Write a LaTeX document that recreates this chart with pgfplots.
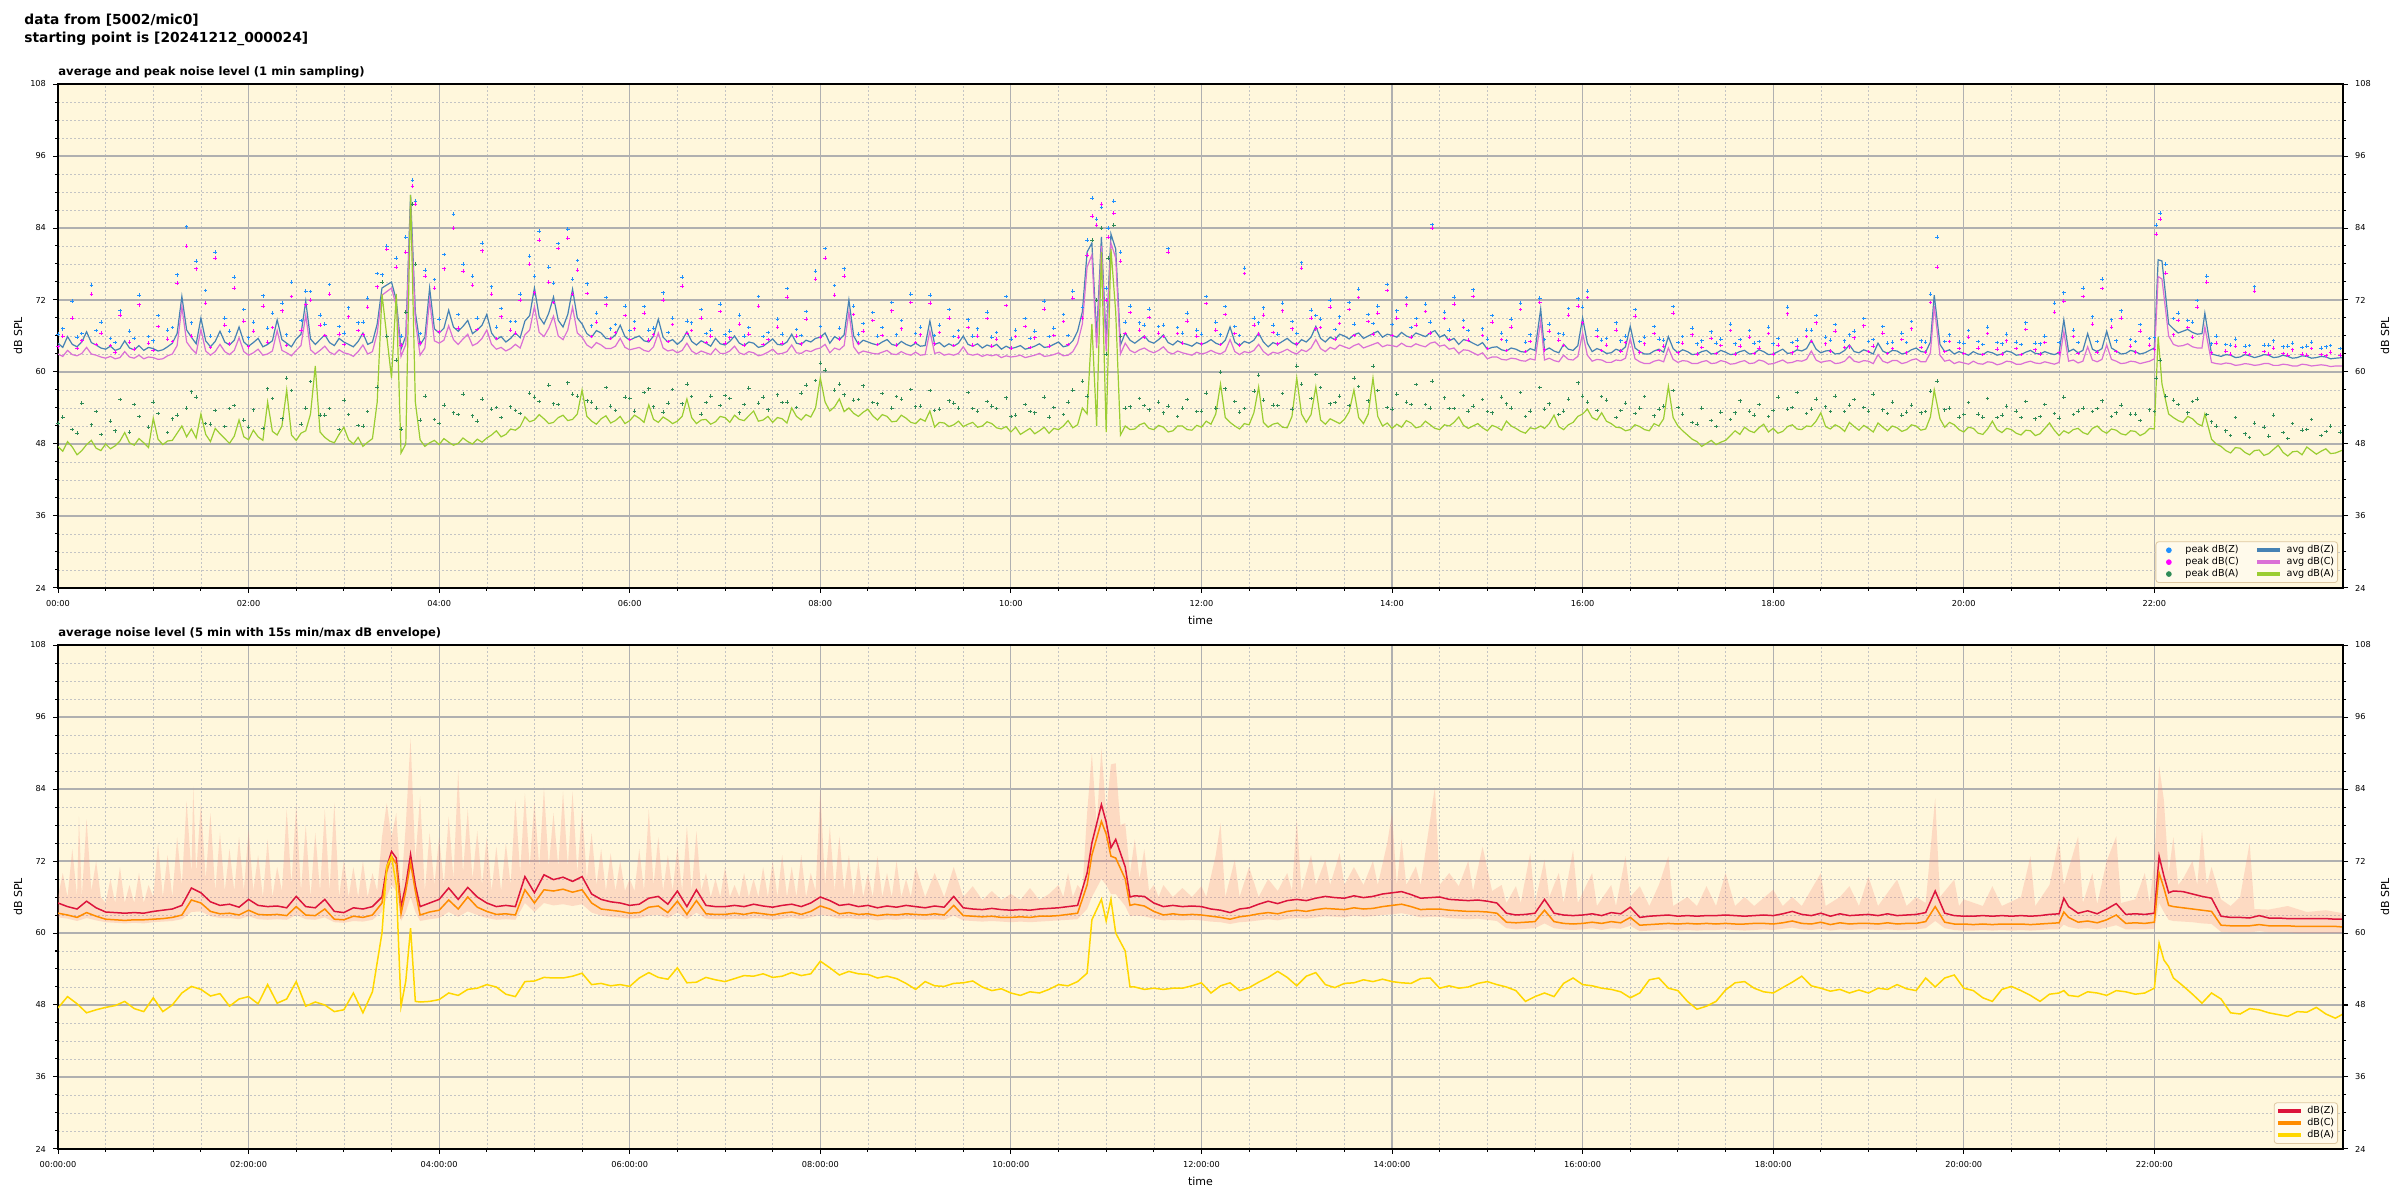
\documentclass[border=0pt]{standalone}
\usepackage{fontspec}
\setmainfont{DejaVu Sans}
\usepackage{pgfplots}
\usepackage{pgfplotstable}
\pgfplotsset{compat=1.18}
\usepgfplotslibrary{fillbetween}

\definecolor{bgc}{RGB}{255,247,220}
\definecolor{pz}{RGB}{30,144,255}
\definecolor{pc}{RGB}{255,0,255}
\definecolor{pa}{RGB}{46,139,87}
\definecolor{az}{RGB}{70,130,180}
\definecolor{ac}{RGB}{218,112,214}
\definecolor{aa}{RGB}{154,205,50}
\definecolor{bz}{RGB}{220,20,60}
\definecolor{bc}{RGB}{255,140,0}
\definecolor{ba}{RGB}{255,215,0}
\definecolor{envc}{RGB}{250,128,114}
\definecolor{gridc}{RGB}{176,176,176}
\definecolor{legedge}{RGB}{222,200,160}
\definecolor{legfill}{RGB}{255,250,235}

% 1 min averages (top panel), hours since midnight
\pgfplotstableread{
t z c a
0.0 64.8 63.0 47.6
0.05 64.1 62.6 46.8
0.1 65.9 63.6 48.4
0.15 64.6 62.9 47.5
0.2 64.2 62.7 46.2
0.25 65.0 63.1 46.9
0.3 66.7 64.1 47.9
0.35 64.9 63.0 48.6
0.4 64.5 62.8 47.3
0.45 64.0 62.5 46.9
0.5 63.8 62.3 48.0
0.55 64.3 62.6 47.2
0.6 63.6 62.2 47.7
0.65 63.9 62.4 48.5
0.7 65.2 63.4 49.9
0.75 64.0 62.5 48.2
0.8 63.7 62.3 47.8
0.85 64.4 62.8 48.9
0.9 63.6 62.2 48.2
0.95 64.1 62.5 47.4
1.0 63.9 62.4 52.3
1.05 63.5 62.1 48.8
1.1 63.7 62.2 47.9
1.15 64.2 62.7 48.5
1.2 64.8 63.0 48.6
1.25 66.4 64.4 49.8
1.3 72.6 70.9 51.0
1.35 67.0 65.0 49.2
1.4 65.8 63.9 50.5
1.45 64.7 63.1 49.0
1.5 69.0 67.1 53.0
1.55 65.2 63.5 49.6
1.6 64.2 62.8 48.4
1.65 65.1 63.4 50.6
1.7 66.8 64.6 49.7
1.75 65.0 63.4 48.9
1.8 64.5 62.9 48.1
1.85 65.3 63.6 49.3
1.9 67.5 65.7 52.0
1.95 65.0 63.4 49.2
2.0 64.3 62.8 48.7
2.05 64.9 63.2 50.3
2.1 65.6 63.8 49.2
2.15 64.2 62.8 48.6
2.2 64.6 63.0 55.0
2.25 65.2 63.5 50.1
2.3 68.7 66.9 49.5
2.35 65.4 63.6 51.0
2.4 64.8 63.2 57.0
2.45 64.2 62.7 49.5
2.5 65.5 63.6 48.6
2.55 66.3 64.4 49.8
2.6 71.8 69.5 50.2
2.65 65.5 63.7 53.0
2.7 64.6 63.0 61.0
2.75 65.4 63.6 50.0
2.8 66.2 64.3 49.1
2.85 64.9 63.3 48.5
2.9 64.4 62.9 48.2
2.95 65.6 63.7 49.6
3.0 65.0 63.2 50.8
3.05 64.6 63.0 48.7
3.1 64.2 62.6 48.0
3.15 65.1 63.4 49.1
3.2 66.5 64.5 47.6
3.25 64.6 63.0 48.3
3.3 65.0 63.4 48.9
3.35 68.0 66.5 55.0
3.4 74.0 72.8 73.0
3.5 75.0 74.0 59.0
3.55 72.0 71.0 73.0
3.6 63.8 62.6 46.5
3.65 66.0 64.6 48.0
3.7 89.5 88.0 89.5
3.75 70.0 68.5 55.0
3.8 64.5 62.8 48.7
3.85 65.8 64.0 47.6
3.9 74.0 72.0 48.2
3.95 67.2 65.2 48.6
4.0 66.5 64.8 47.9
4.05 67.3 65.3 48.9
4.1 70.3 67.7 48.3
4.15 67.5 65.4 47.8
4.2 66.8 64.6 48.1
4.25 67.6 65.5 49.0
4.3 68.6 66.3 48.4
4.35 66.4 64.4 48.0
4.4 67.0 64.8 48.8
4.45 67.8 65.6 48.3
4.5 69.6 67.0 49.0
4.55 66.5 64.6 49.5
4.6 65.4 63.8 50.2
4.65 65.9 64.1 49.2
4.7 65.0 63.5 49.6
4.75 65.6 63.9 50.5
4.8 66.5 64.6 50.3
4.85 65.7 64.0 50.9
4.9 68.5 66.2 52.5
4.95 69.4 67.0 51.7
5.0 74.0 70.9 52.0
5.05 69.2 66.6 52.9
5.1 68.0 65.9 52.2
5.15 69.8 67.3 51.4
5.2 72.5 69.3 51.6
5.25 68.6 66.0 52.4
5.3 67.5 65.4 52.8
5.35 69.6 67.0 51.9
5.4 73.8 70.8 52.1
5.45 69.0 66.5 53.0
5.5 68.0 65.8 57.0
5.55 66.4 64.5 52.6
5.6 65.8 64.0 51.8
5.65 66.9 64.9 51.3
5.7 66.5 64.5 52.2
5.75 65.6 63.9 52.7
5.8 65.5 63.9 51.5
5.85 66.2 64.3 51.9
5.9 67.8 65.6 52.6
5.95 65.9 64.1 51.4
6.0 65.3 63.7 51.9
6.05 65.7 63.9 52.8
6.1 66.0 64.1 52.3
6.15 65.2 63.6 51.6
6.2 65.0 63.4 54.5
6.25 66.0 64.2 52.1
6.3 68.8 66.5 51.6
6.35 65.8 64.0 52.5
6.4 65.0 63.5 52.0
6.45 65.4 63.7 51.4
6.5 64.6 63.2 51.8
6.55 65.3 63.6 52.6
6.6 66.7 64.8 55.5
6.65 65.1 63.5 52.4
6.7 64.5 63.0 51.4
6.75 65.2 63.5 52.0
6.8 64.8 63.2 52.1
6.85 64.3 62.9 51.3
6.9 65.6 63.9 51.7
6.95 64.7 63.1 52.6
7.0 64.5 63.1 52.4
7.05 65.1 63.5 51.6
7.1 66.0 64.3 52.8
7.15 64.8 63.2 52.1
7.2 64.4 62.9 51.9
7.25 65.0 63.4 52.7
7.3 64.8 63.2 53.5
7.35 64.1 62.7 51.8
7.4 64.3 62.9 52.0
7.45 64.9 63.3 52.6
7.5 65.5 63.8 51.6
7.55 64.6 63.0 52.4
7.6 64.5 63.1 52.2
7.65 65.0 63.4 51.5
7.7 66.3 64.5 54.0
7.75 64.8 63.2 52.6
7.8 64.6 63.1 52.0
7.85 65.3 63.6 52.9
7.9 65.0 63.4 52.5
7.95 65.6 63.8 54.0
8.0 65.8 64.0 59.0
8.05 66.5 64.6 55.0
8.1 64.8 63.2 53.5
8.15 65.9 64.0 54.2
8.2 65.4 63.7 55.5
8.25 66.2 64.4 53.4
8.3 72.0 70.0 54.0
8.35 66.0 64.2 53.1
8.4 64.6 63.1 52.6
8.45 65.3 63.5 53.3
8.5 65.0 63.3 53.8
8.55 64.7 63.1 52.7
8.6 64.5 63.0 52.0
8.65 65.0 63.3 52.9
8.7 65.4 63.6 52.6
8.75 64.6 63.0 51.7
8.8 64.4 62.9 51.8
8.85 65.1 63.4 52.8
8.9 64.6 63.0 52.3
8.95 64.3 62.8 51.6
9.0 64.8 63.3 51.4
9.05 64.3 62.8 52.2
9.1 64.4 62.9 51.8
9.15 68.5 66.8 53.5
9.2 64.6 63.1 50.8
9.25 64.9 63.3 51.6
9.3 64.2 62.8 51.5
9.35 64.7 63.0 50.9
9.4 64.3 62.8 51.2
9.45 64.8 63.1 51.8
9.5 66.0 64.2 50.9
9.55 64.6 63.0 51.3
9.6 64.3 62.8 51.6
9.65 64.7 63.0 50.8
9.7 64.0 62.6 51.0
9.75 64.5 62.9 51.7
9.8 64.2 62.7 51.4
9.85 64.6 62.9 50.7
9.9 63.8 62.4 50.5
9.95 64.3 62.7 50.9
10.0 63.9 62.5 50.0
10.05 64.1 62.6 50.8
10.1 64.4 62.8 49.6
10.15 63.8 62.4 50.1
10.2 64.0 62.6 50.6
10.25 64.3 62.8 49.7
10.3 64.7 63.1 50.2
10.35 64.1 62.6 50.8
10.4 64.2 62.7 49.8
10.45 64.6 62.9 50.6
10.5 65.0 63.2 50.4
10.55 64.2 62.7 51.0
10.6 64.4 62.8 51.9
10.65 65.2 63.4 50.7
10.7 66.8 64.8 51.2
10.75 70.0 68.0 54.0
10.8 80.0 77.5 53.0
10.85 81.5 79.5 68.0
10.9 66.0 64.0 51.0
10.95 82.5 81.0 80.0
11.0 65.0 63.5 50.0
11.05 83.0 81.5 80.5
11.1 80.5 79.0 70.0
11.15 64.5 63.0 49.5
11.2 66.5 64.8 51.0
11.25 65.3 63.6 50.4
11.3 64.8 63.2 50.5
11.35 65.4 63.7 51.2
11.4 66.0 64.0 51.5
11.45 65.1 63.5 50.6
11.5 64.8 63.2 50.4
11.55 65.4 63.6 51.1
11.6 66.2 64.2 50.8
11.65 64.9 63.3 50.0
11.7 64.5 63.0 50.2
11.75 65.2 63.5 51.0
11.8 64.8 63.2 51.0
11.85 64.6 63.0 50.4
11.9 64.3 62.8 50.3
11.95 64.9 63.3 51.1
12.0 64.6 63.0 50.8
12.05 64.9 63.2 51.8
12.1 65.4 63.6 51.3
12.15 64.8 63.2 53.0
12.2 64.5 63.0 58.0
12.25 65.3 63.5 52.4
12.3 67.5 65.4 51.6
12.35 65.0 63.4 51.0
12.4 64.4 62.9 50.5
12.45 65.1 63.4 51.4
12.5 64.8 63.2 51.2
12.55 65.3 63.6 53.2
12.6 66.5 64.6 57.5
12.65 65.0 63.4 51.6
12.7 64.2 62.8 50.8
12.75 64.9 63.3 51.3
12.8 64.6 63.1 51.5
12.85 65.1 63.4 50.8
12.9 65.6 63.8 50.7
12.95 64.9 63.3 52.6
13.0 64.5 63.0 59.0
13.05 65.4 63.7 53.0
13.1 65.0 63.4 51.6
13.15 65.8 64.0 52.9
13.2 67.6 65.4 57.5
13.25 65.6 63.9 52.0
13.3 65.0 63.4 51.3
13.35 65.8 64.1 52.2
13.4 65.4 63.8 51.8
13.45 66.3 64.5 51.4
13.5 66.0 64.2 52.1
13.55 65.5 63.9 53.4
13.6 66.2 64.4 57.0
13.65 66.5 64.7 52.4
13.7 65.6 64.0 51.4
13.75 66.0 64.3 53.0
13.8 66.4 64.6 59.0
13.85 66.8 64.9 52.6
13.9 65.8 64.2 51.0
13.95 66.3 64.5 51.5
14.0 66.1 64.4 50.6
14.05 65.8 64.2 51.3
14.1 66.6 64.8 50.8
14.15 66.0 64.3 51.9
14.2 65.7 64.2 51.5
14.25 66.5 64.7 50.7
14.3 66.2 64.4 50.9
14.35 65.9 64.2 51.8
14.4 66.5 64.8 51.2
14.45 66.9 65.0 50.6
14.5 65.8 64.3 50.4
14.55 66.2 64.5 51.2
14.6 65.2 63.8 51.0
14.65 65.6 64.0 51.6
14.7 64.6 63.1 52.5
14.75 65.4 63.7 51.1
14.8 65.2 63.6 50.6
14.85 64.8 63.2 51.0
14.9 64.4 62.8 51.4
14.95 64.9 63.2 50.7
15.0 63.8 62.2 50.2
15.05 64.1 62.5 51.1
15.1 64.2 62.5 50.8
15.15 63.7 62.1 50.3
15.2 63.5 62.0 51.8
15.25 64.0 62.3 51.0
15.3 63.8 62.2 50.6
15.35 63.4 61.9 50.1
15.4 63.3 61.8 49.8
15.45 63.9 62.2 50.7
15.5 63.6 62.0 50.5
15.56 70.5 68.5 51.0
15.6 63.6 62.0 50.6
15.65 64.0 62.3 51.4
15.7 63.5 61.9 52.8
15.75 63.2 61.7 50.9
15.8 64.6 62.8 50.4
15.85 63.8 62.1 51.2
15.9 63.6 62.0 51.6
15.95 64.4 62.6 52.6
16.0 69.0 66.5 53.0
16.05 64.8 62.8 53.8
16.1 63.4 61.8 52.4
16.15 63.9 62.1 52.0
16.2 63.6 62.0 53.2
16.25 63.1 61.6 51.8
16.3 63.2 61.6 51.4
16.35 63.8 62.0 50.8
16.4 63.5 61.9 50.7
16.45 64.2 62.3 50.2
16.5 67.6 65.6 50.4
16.55 64.0 62.2 51.2
16.6 63.4 61.7 50.9
16.65 63.0 61.4 50.4
16.7 63.0 61.4 50.2
16.75 63.5 61.8 51.4
16.8 63.8 62.0 51.0
16.85 63.3 61.7 52.2
16.9 65.9 64.0 57.6
16.95 63.9 62.1 52.4
17.0 63.2 61.6 51.0
17.05 63.7 61.9 50.2
17.1 63.4 61.8 49.5
17.15 62.9 61.4 48.8
17.2 63.0 61.4 48.4
17.25 63.4 61.7 47.6
17.3 63.6 61.9 48.1
17.35 63.0 61.4 48.6
17.4 63.1 61.5 47.9
17.45 63.6 61.9 48.3
17.5 63.3 61.7 48.6
17.55 62.9 61.3 49.4
17.6 63.0 61.4 50.2
17.65 63.4 61.7 49.6
17.7 63.6 61.9 50.8
17.75 63.0 61.4 50.2
17.8 63.1 61.5 49.9
17.85 63.7 62.0 50.7
17.9 63.4 61.8 51.3
17.95 62.9 61.3 50.0
18.0 63.0 61.4 50.6
18.05 63.4 61.7 49.8
18.1 63.8 62.0 50.1
18.15 63.1 61.5 50.9
18.2 63.2 61.6 51.2
18.25 63.7 61.9 50.5
18.3 63.5 61.8 50.4
18.35 63.9 62.1 51.0
18.4 65.3 63.5 50.9
18.45 63.8 62.0 51.8
18.5 63.2 61.6 53.2
18.55 63.5 61.8 50.9
18.6 63.6 61.9 50.5
18.65 63.0 61.4 51.2
18.7 63.1 61.5 50.8
18.75 63.6 61.8 50.1
18.8 64.5 62.6 51.6
18.85 63.4 61.8 50.9
18.9 63.2 61.6 50.3
18.95 63.7 61.9 51.1
19.0 63.4 61.8 50.6
19.05 63.0 61.4 50.0
19.1 64.8 62.9 51.5
19.15 63.5 61.8 50.8
19.2 63.1 61.5 50.2
19.25 63.6 61.9 51.0
19.3 63.5 61.9 50.7
19.35 63.0 61.4 50.1
19.4 63.2 61.6 50.4
19.45 63.7 62.0 51.2
19.5 64.0 62.2 51.0
19.55 63.4 61.7 50.3
19.6 63.3 61.7 50.5
19.65 65.0 63.2 52.5
19.69 72.8 71.0 57.0
19.75 64.6 62.8 52.2
19.8 63.4 61.8 50.8
19.85 63.7 62.0 51.6
19.9 63.0 61.4 51.2
19.95 63.4 61.7 50.4
20.0 63.1 61.5 50.0
20.05 62.8 61.3 50.8
20.1 63.4 61.8 50.6
20.15 63.0 61.4 49.8
20.2 62.9 61.3 49.6
20.25 63.4 61.7 50.5
20.3 63.2 61.6 51.8
20.35 62.8 61.2 50.4
20.4 63.0 61.4 49.9
20.45 63.5 61.8 50.6
20.5 63.3 61.7 50.4
20.55 62.8 61.3 49.8
20.6 62.9 61.3 49.5
20.65 63.3 61.6 50.3
20.7 63.6 61.8 50.2
20.75 63.1 61.5 49.4
20.8 63.0 61.4 49.7
20.85 63.4 61.7 50.6
20.9 63.1 61.5 51.5
20.95 62.9 61.3 50.3
21.0 63.2 61.6 49.4
21.05 68.7 66.7 50.2
21.1 63.4 61.8 49.8
21.15 63.8 62.0 50.4
21.2 63.2 61.5 50.6
21.25 63.6 61.8 49.9
21.3 66.4 64.2 49.6
21.35 63.8 62.0 50.6
21.4 63.4 61.7 51.0
21.45 63.9 62.1 50.2
21.5 66.8 64.5 49.8
21.55 64.0 62.1 50.5
21.6 63.5 61.8 50.3
21.65 63.0 61.4 49.7
21.7 63.1 61.5 49.5
21.75 63.6 61.8 50.2
21.8 63.4 61.7 50.1
21.85 63.0 61.4 49.4
21.9 63.2 61.6 49.8
21.95 63.6 61.8 50.6
22.0 64.0 62.2 50.5
22.04 78.7 75.9 65.9
22.08 78.5 75.5 58.0
22.15 68.0 66.0 53.0
22.2 67.2 64.6 52.4
22.25 66.5 64.3 51.9
22.3 66.8 64.4 51.6
22.35 67.1 64.7 52.6
22.4 66.6 64.2 52.2
22.45 66.3 64.0 51.4
22.5 66.4 64.0 51.0
22.53 69.8 67.5 53.0
22.6 63.0 61.6 48.8
22.65 62.8 61.4 48.0
22.7 62.6 61.3 47.6
22.75 62.9 61.5 46.9
22.8 62.8 61.4 46.5
22.85 62.4 61.1 47.4
22.9 62.5 61.2 47.3
22.95 62.9 61.4 46.6
23.0 62.7 61.3 46.2
23.05 62.4 61.1 46.9
23.1 62.6 61.2 47.0
23.15 62.9 61.4 46.1
23.2 62.8 61.4 46.4
23.25 62.4 61.1 47.1
23.3 62.5 61.1 47.8
23.35 62.8 61.3 46.6
23.4 62.6 61.2 46.0
23.45 62.3 61.0 46.7
23.5 62.4 61.0 46.8
23.55 62.7 61.3 46.2
23.6 62.6 61.2 47.5
23.65 62.3 61.0 46.9
23.7 62.4 61.1 46.3
23.75 62.6 61.2 46.8
23.8 62.5 61.1 47.2
23.85 62.2 60.9 46.4
23.9 62.3 61.0 46.5
23.98 62.4 61.0 47.0
}\avgtab

% 1 min peaks (top panel), outliers
\pgfplotstableread{
t z c a
0.05 67.2 66.0 52.5
0.15 71.8 69.0 50.4
0.25 66.4 65.2 54.8
0.35 74.5 73.0 51.2
0.45 68.3 66.5 49.6
0.55 65.6 64.4 51.8
0.65 70.2 69.5 55.4
0.75 66.8 65.0 50.0
0.85 72.8 71.2 52.6
0.95 65.9 64.8 50.8
1.05 69.4 67.6 53.1
1.15 67.0 65.5 49.9
1.25 76.2 74.8 52.8
1.35 84.2 81.0 54.0
1.45 78.5 77.2 55.8
1.55 73.6 71.5 51.4
1.65 80.0 79.0 53.6
1.75 69.0 67.8 50.9
1.85 75.8 74.0 54.4
1.95 70.4 68.5 52.0
2.05 68.3 66.8 53.7
2.15 72.7 71.0 50.6
2.25 69.8 67.4 55.6
2.35 71.5 70.2 52.2
2.45 75.0 72.6 56.9
2.55 68.6 67.0 51.3
2.65 73.4 72.0 58.4
2.75 69.5 67.8 52.8
2.85 74.6 73.0 53.9
2.95 67.6 66.3 50.4
3.05 70.7 69.2 52.9
3.15 68.2 66.9 51.1
3.25 72.3 70.8 53.4
3.35 76.4 74.2 57.5
3.45 81.0 80.5 66.0
3.55 79.0 77.5 62.0
3.65 82.5 80.0 70.0
3.72 92.0 91.0 88.0
3.75 88.5 88.0 78.0
3.85 77.0 76.0 56.0
3.95 75.4 74.0 52.1
4.05 79.6 77.2 54.5
4.15 86.3 84.0 53.2
4.25 78.0 76.8 56.3
4.35 76.0 74.5 52.7
4.45 81.5 80.2 55.5
4.55 74.2 73.0 53.8
4.65 70.6 69.2 52.4
4.75 68.4 67.0 54.2
4.85 73.0 72.0 53.1
4.95 79.3 78.0 56.5
5.05 83.5 82.0 55.1
5.15 77.5 75.0 57.8
5.25 81.4 80.6 54.6
5.35 83.8 82.3 58.2
5.45 78.6 77.0 56.0
5.55 74.7 73.1 55.2
5.65 69.8 68.3 54.0
5.75 72.4 71.2 57.4
5.85 67.9 66.6 53.6
5.95 71.0 69.4 55.8
6.05 68.4 67.2 53.5
6.15 70.9 69.8 56.6
6.25 67.3 66.2 54.2
6.35 73.2 72.0 53.3
6.45 69.0 67.9 57.1
6.55 75.8 74.3 54.7
6.65 68.2 66.9 55.9
6.75 70.4 69.0 53.0
6.85 67.0 66.0 56.0
6.95 71.3 70.1 54.4
7.05 66.8 65.7 55.6
7.15 69.5 68.0 53.2
7.25 67.4 66.3 57.3
7.35 72.6 71.0 54.8
7.45 66.6 65.4 53.7
7.55 68.8 67.5 56.2
7.65 73.9 72.5 55.0
7.75 67.1 66.0 54.1
7.85 70.1 68.8 57.8
7.95 76.8 75.5 58.6
8.05 80.6 79.0 60.3
8.15 74.4 72.8 57.0
8.25 77.2 76.0 56.2
8.35 71.0 69.6 55.3
8.45 68.1 66.8 57.7
8.55 69.9 68.6 54.9
8.65 67.4 66.1 56.4
8.75 71.6 70.2 54.0
8.85 68.6 67.2 55.5
8.95 73.0 71.6 57.1
9.05 67.5 66.2 54.3
9.15 72.8 71.5 56.9
9.25 67.8 66.6 53.8
9.35 70.4 69.0 55.2
9.45 66.9 65.8 54.0
9.55 68.7 67.4 56.6
9.65 67.2 66.0 53.5
9.75 70.0 68.9 55.1
9.85 66.6 65.5 53.9
9.95 72.6 71.1 55.7
10.05 67.0 65.9 52.8
10.15 68.9 67.6 54.6
10.25 66.8 65.7 53.2
10.35 71.8 70.5 55.8
10.45 67.3 66.1 54.1
10.55 69.6 68.4 52.9
10.65 73.5 72.3 57.0
10.75 70.8 69.0 58.5
10.85 89.0 86.0 82.0
10.9 85.5 84.5 72.0
10.95 87.5 88.0 84.0
11.02 84.0 82.5 79.0
11.08 88.5 86.5 84.5
11.15 80.0 78.5 66.0
11.25 71.0 69.9 54.2
11.35 68.2 67.0 55.6
11.45 70.5 69.1 53.7
11.55 67.6 66.5 55.0
11.65 80.6 80.0 54.3
11.75 67.4 66.4 52.6
11.85 69.8 68.5 55.4
11.95 67.0 66.0 53.4
12.05 72.6 71.4 56.5
12.15 68.3 67.0 54.0
12.25 70.9 69.6 57.2
12.35 67.6 66.4 55.1
12.45 77.3 76.4 53.9
12.55 69.0 67.8 56.8
12.65 70.7 69.5 55.3
12.75 67.8 66.6 54.5
12.85 71.5 70.2 56.4
12.95 68.4 67.2 53.8
13.05 78.2 77.3 58.0
13.15 70.3 69.0 55.6
13.25 68.8 67.4 57.4
13.35 72.0 70.8 54.7
13.45 69.2 68.1 56.0
13.55 71.6 70.4 54.4
13.65 73.8 72.4 57.6
13.75 69.6 68.4 55.2
13.85 71.0 69.8 56.9
13.95 74.6 73.6 54.1
14.05 70.2 69.0 56.3
14.15 72.4 71.2 55.0
14.25 68.9 67.8 57.9
14.35 71.3 70.1 54.6
14.42 84.6 84.0 58.5
14.55 70.0 68.9 55.7
14.65 72.5 71.3 53.9
14.75 68.6 67.4 56.1
14.85 73.7 72.6 54.3
14.95 67.2 66.1 55.4
15.05 69.4 68.3 53.2
15.15 66.5 65.4 55.8
15.25 68.8 67.5 54.0
15.35 71.5 70.4 56.6
15.45 66.2 65.1 53.5
15.55 72.3 71.6 57.4
15.65 68.0 66.8 54.7
15.75 66.4 65.3 52.9
15.85 70.6 69.5 55.5
15.95 72.2 71.0 58.2
16.05 73.5 72.4 55.0
16.15 67.0 65.9 53.6
16.25 65.6 64.5 55.3
16.35 68.2 67.0 52.4
16.45 66.0 64.9 54.8
16.55 70.4 69.3 53.1
16.65 65.8 64.7 55.9
16.75 67.6 66.4 52.7
16.85 65.3 64.3 54.3
16.95 70.9 69.8 56.9
17.05 65.9 64.8 53.0
17.15 67.3 66.2 51.6
17.25 65.2 64.1 54.0
17.35 66.7 65.6 51.9
17.45 65.5 64.4 53.3
17.55 68.0 66.9 52.1
17.65 65.4 64.3 55.2
17.75 66.9 65.8 53.5
17.85 65.1 64.0 54.6
17.95 67.5 66.4 52.6
18.05 65.6 64.5 55.8
18.15 70.8 69.7 53.8
18.25 65.3 64.2 56.6
18.35 67.0 65.9 53.1
18.45 69.4 68.2 55.5
18.55 65.8 64.7 54.2
18.65 67.9 66.8 56.0
18.75 65.2 64.1 53.4
18.85 66.8 65.7 55.4
18.95 68.9 67.7 54.1
19.05 65.4 64.3 56.3
19.15 67.6 66.5 53.7
19.25 65.0 63.9 55.0
19.35 66.5 65.4 52.8
19.45 68.4 67.2 54.5
19.55 65.2 64.1 53.2
19.65 73.0 71.6 56.8
19.72 82.5 77.5 58.5
19.85 66.2 65.1 54.0
19.95 65.0 63.9 52.5
20.05 66.9 65.8 54.9
20.15 65.1 64.0 53.0
20.25 67.5 66.4 55.6
20.35 64.9 63.8 52.4
20.45 66.3 65.2 54.3
20.55 65.0 63.9 53.5
20.65 68.2 67.1 55.1
20.75 64.8 63.7 52.2
20.85 66.0 64.9 54.6
20.95 71.5 70.0 53.1
21.05 73.2 71.8 55.8
21.15 67.0 65.9 52.9
21.25 74.0 72.6 54.0
21.35 69.2 68.0 53.4
21.45 75.5 73.9 55.2
21.55 68.7 67.5 52.6
21.65 70.2 69.0 54.5
21.75 65.4 64.3 53.0
21.85 67.9 66.8 51.9
21.95 65.6 64.5 53.7
22.02 84.5 83.0 59.0
22.06 86.5 85.5 62.0
22.12 78.0 76.5 56.0
22.25 69.8 68.6 54.6
22.35 68.6 67.4 53.2
22.45 71.9 70.8 55.5
22.55 76.0 75.0 52.9
22.65 66.0 64.8 51.0
22.75 64.6 63.5 50.2
22.85 65.5 64.3 52.4
22.95 64.3 63.2 49.7
23.05 74.2 73.5 51.5
23.15 64.5 63.4 50.8
23.25 65.2 64.0 52.8
23.35 64.2 63.1 49.9
23.45 64.8 63.7 51.4
23.55 64.1 63.0 50.3
23.65 65.0 63.9 52.1
23.75 64.0 62.9 49.4
23.85 64.4 63.3 51.0
23.95 63.9 62.8 50.0
}\peaktab

% 1 min peaks (top panel), the dense band just above the averages
\pgfplotstableread{
t z c a
0.0 66.3 64.2 51.5
0.2 65.8 63.9 49.8
0.4 66.9 64.6 53.4
0.6 64.9 63.3 50.2
0.8 65.6 63.8 54.6
1.0 65.2 63.6 55.0
1.2 67.4 65.1 52.2
1.4 68.2 66.0 56.7
1.6 66.0 64.1 51.3
1.8 66.8 64.7 53.9
2.0 65.7 64.2 50.8
2.2 67.3 65.0 57.2
2.4 66.2 64.4 59.0
2.6 73.5 71.2 54.0
2.8 68.0 66.1 52.8
3.0 66.5 64.6 55.3
3.2 68.3 66.2 51.0
3.4 76.2 75.0 75.0
3.6 66.0 64.5 50.5
3.8 66.4 64.8 52.0
4.0 68.8 66.7 51.4
4.2 69.6 67.3 52.9
4.4 69.0 67.1 51.8
4.6 67.5 65.6 54.1
4.8 68.4 66.5 53.6
5.0 76.0 73.2 55.8
5.2 74.8 71.6 54.7
5.4 75.5 73.0 56.3
5.6 67.7 65.9 55.0
5.8 67.2 65.6 54.3
6.0 66.9 65.4 55.6
6.2 67.0 65.3 57.2
6.4 66.6 65.1 54.8
6.6 68.5 66.4 58.0
6.8 66.4 64.9 54.9
7.0 66.2 64.8 56.1
7.2 66.0 64.5 54.6
7.4 65.9 64.6 55.8
7.6 66.3 64.8 54.9
7.8 66.1 64.7 56.5
8.0 67.6 65.8 61.5
8.2 67.3 65.5 58.0
8.4 66.3 64.8 55.4
8.6 66.0 64.6 54.7
8.8 66.2 64.5 55.9
9.0 66.4 64.9 54.2
9.2 66.1 64.7 53.6
9.4 65.9 64.4 54.8
9.6 66.0 64.5 53.9
9.8 65.8 64.3 54.3
10.0 65.5 64.0 52.6
10.2 65.6 64.1 53.4
10.4 65.9 64.3 52.5
10.6 66.1 64.6 55.0
10.8 82.0 79.5 56.0
11.0 74.0 72.0 63.0
11.2 68.3 66.4 54.0
11.4 67.8 65.8 54.4
11.6 67.8 65.9 53.2
11.8 66.5 64.8 54.0
12.0 66.3 64.7 53.5
12.2 66.2 64.6 60.0
12.4 66.1 64.5 53.3
12.6 68.2 66.3 59.5
12.8 66.3 64.7 54.4
13.0 66.4 64.7 61.0
13.2 69.4 67.2 59.6
13.4 67.1 65.5 54.9
13.6 68.0 66.1 59.0
13.8 68.1 66.3 61.0
14.0 67.9 66.1 53.8
14.2 67.4 65.8 54.6
14.4 68.3 66.5 54.0
14.6 67.0 65.4 53.9
14.8 66.9 65.3 53.5
15.0 65.5 63.9 53.4
15.2 65.2 63.6 54.7
15.4 65.0 63.4 52.6
15.6 65.4 63.7 53.8
15.8 66.3 64.4 53.5
16.0 70.8 68.2 56.0
16.2 65.3 63.6 55.9
16.4 65.2 63.5 53.6
16.6 65.1 63.3 54.0
16.8 65.5 63.6 53.8
17.0 64.9 63.2 54.1
17.2 64.7 63.0 51.3
17.4 64.8 63.1 50.9
17.6 64.7 63.0 53.2
17.8 64.8 63.1 52.8
18.0 64.7 63.0 53.6
18.2 64.9 63.2 54.1
18.4 67.0 65.1 53.8
18.6 65.3 63.5 53.4
18.8 66.2 64.2 54.5
19.0 65.1 63.4 53.5
19.2 64.8 63.1 53.1
19.4 64.9 63.2 53.3
19.6 65.0 63.3 53.4
19.8 65.1 63.4 53.7
20.0 64.8 63.1 52.9
20.2 64.6 62.9 52.5
20.4 64.7 63.0 52.8
20.6 64.6 62.9 52.4
20.8 64.7 63.0 52.6
21.0 64.9 63.2 52.3
21.2 64.9 63.1 53.5
21.4 65.1 63.3 53.9
21.6 65.2 63.4 53.2
21.8 65.1 63.3 53.0
22.0 65.7 63.8 53.4
22.2 68.9 66.2 55.3
22.4 68.3 65.8 55.1
22.6 64.7 63.2 51.7
22.8 64.5 63.0 49.4
23.0 64.4 62.9 49.1
23.2 64.5 63.0 49.3
23.4 64.3 62.8 48.9
23.6 64.3 62.8 50.4
23.8 64.2 62.7 50.1
}\bandtab

% 5 min averages (bottom panel), lo = lower edge of the 15 s envelope
\pgfplotstableread{
t z c a lo
0.0 65.0 63.3 47.5 62.6
0.1 64.4 63.0 49.4 62.4
0.2 64.0 62.6 48.2 62.0
0.3 65.3 63.4 46.7 62.5
0.4 64.2 62.8 47.2 62.1
0.5 63.5 62.3 47.6 61.8
0.6 63.4 62.2 47.9 61.7
0.7 63.3 62.1 48.6 61.6
0.8 63.4 62.2 47.4 61.7
0.9 63.3 62.2 46.9 61.6
1.0 63.6 62.3 49.2 61.8
1.1 63.8 62.4 46.9 61.9
1.2 64.0 62.6 48.0 62.0
1.3 64.6 63.0 50.0 62.3
1.4 67.5 65.5 51.1 63.5
1.5 66.7 65.0 50.6 63.6
1.6 65.2 63.6 49.5 62.8
1.7 64.6 63.2 49.9 62.5
1.8 64.8 63.3 47.8 62.5
1.9 64.3 63.0 49.0 62.3
2.0 65.6 63.8 49.4 62.8
2.1 64.6 63.1 48.2 62.3
2.2 64.4 63.0 51.4 62.2
2.3 64.5 63.1 48.3 62.3
2.4 64.2 62.9 49.0 62.2
2.5 66.1 64.4 51.9 63.0
2.6 64.4 63.0 47.8 62.3
2.7 64.2 62.9 48.5 62.2
2.8 65.6 64.0 48.0 62.6
2.9 63.6 62.3 46.9 61.8
3.0 63.4 62.2 47.2 61.7
3.1 64.2 62.8 50.0 62.0
3.2 64.0 62.6 46.7 61.9
3.3 64.4 63.0 50.2 62.2
3.4 66.0 65.0 60.0 63.5
3.45 71.0 70.2 71.1 66.0
3.5 73.6 72.8 72.8 68.0
3.55 72.5 71.5 68.0 67.0
3.6 64.4 63.2 47.8 62.0
3.65 68.0 67.0 52.0 63.5
3.7 73.1 71.7 60.8 66.0
3.75 68.0 67.0 48.6 63.5
3.8 64.4 63.0 48.5 62.0
3.9 65.0 63.5 48.6 62.3
4.0 65.6 63.8 48.9 62.5
4.1 67.5 65.5 50.0 63.5
4.2 65.6 64.0 49.6 62.7
4.3 67.6 66.0 50.6 63.6
4.4 66.0 64.3 50.8 63.0
4.5 65.0 63.6 51.4 62.5
4.6 64.4 63.1 51.0 62.2
4.7 64.6 63.2 49.8 62.3
4.8 64.4 63.0 49.4 62.2
4.9 69.4 67.2 51.9 65.0
5.0 66.7 65.0 52.0 63.5
5.1 69.7 67.2 52.6 65.0
5.2 68.9 67.0 52.5 64.6
5.3 69.3 67.3 52.5 64.8
5.4 68.6 66.8 52.8 64.5
5.5 69.4 67.2 53.3 64.8
5.6 66.5 65.0 51.4 63.4
5.7 65.6 64.0 51.6 62.9
5.8 65.2 63.8 51.2 62.7
5.9 65.0 63.6 51.4 62.6
6.0 64.6 63.3 51.1 62.4
6.1 64.8 63.4 52.5 62.5
6.2 65.8 64.3 53.4 62.9
6.3 66.1 64.5 52.6 63.0
6.4 64.8 63.4 52.3 62.5
6.5 67.0 65.3 54.2 63.4
6.6 64.4 63.1 51.7 62.3
6.7 67.2 65.4 51.8 63.4
6.8 64.6 63.2 52.6 62.4
6.9 64.4 63.1 52.2 62.3
7.0 64.4 63.1 51.9 62.3
7.1 64.6 63.3 52.4 62.4
7.2 64.4 63.1 52.9 62.3
7.3 64.8 63.4 52.8 62.5
7.4 64.5 63.2 53.2 62.4
7.5 64.3 63.0 52.6 62.2
7.6 64.6 63.3 52.8 62.4
7.7 64.8 63.5 53.4 62.6
7.8 64.4 63.1 52.9 62.3
7.9 65.0 63.6 53.2 62.6
8.0 66.0 64.5 55.3 63.0
8.1 65.4 64.0 54.2 62.8
8.2 64.6 63.2 53.0 62.4
8.3 64.8 63.4 53.6 62.5
8.4 64.4 63.1 53.2 62.3
8.5 64.6 63.2 53.1 62.4
8.6 64.2 62.9 52.5 62.1
8.7 64.5 63.1 52.8 62.3
8.8 64.3 63.0 52.4 62.2
8.9 64.6 63.2 51.6 62.4
9.0 64.4 63.1 50.6 62.3
9.1 64.2 63.0 51.9 62.2
9.2 64.5 63.2 51.2 62.3
9.3 64.3 63.0 51.1 62.2
9.4 66.1 64.6 51.6 62.9
9.5 64.2 62.9 51.7 62.1
9.6 64.0 62.8 52.0 62.0
9.7 63.9 62.7 51.0 61.9
9.8 64.1 62.8 50.4 62.0
9.9 63.9 62.6 50.7 61.9
10.0 63.8 62.6 50.0 61.8
10.1 63.9 62.7 49.6 61.9
10.2 63.8 62.6 50.2 61.8
10.3 64.0 62.8 50.0 61.9
10.4 64.1 62.8 50.6 62.0
10.5 64.2 62.9 51.4 62.1
10.6 64.4 63.1 51.2 62.2
10.7 64.6 63.3 51.9 62.3
10.8 70.0 68.0 53.3 64.0
10.85 75.0 73.0 62.2 66.0
10.95 81.4 78.6 65.6 69.0
11.0 78.5 76.5 62.0 68.0
11.05 74.2 72.8 65.6 66.5
11.1 75.6 72.5 60.0 66.5
11.2 71.0 69.0 57.0 64.5
11.25 66.0 64.6 51.0 62.8
11.3 66.2 64.8 51.0 62.9
11.4 66.1 64.5 50.6 62.8
11.5 65.0 63.6 50.8 62.4
11.6 64.4 63.0 50.6 62.1
11.7 64.6 63.2 50.8 62.2
11.8 64.4 63.0 50.8 62.1
11.9 64.5 63.1 51.2 62.2
12.0 64.4 63.0 51.7 62.1
12.1 64.0 62.8 50.0 61.9
12.2 63.8 62.6 51.2 61.8
12.3 63.4 62.3 51.7 61.5
12.4 64.0 62.7 50.4 61.8
12.5 64.2 62.9 50.9 61.9
12.6 64.8 63.2 51.8 62.1
12.7 65.3 63.4 52.6 62.3
12.8 64.9 63.2 53.6 62.1
12.9 65.4 63.6 52.6 62.4
13.0 65.6 63.8 51.2 62.5
13.1 65.4 63.6 52.8 62.4
13.2 65.8 63.9 53.4 62.6
13.3 66.1 64.1 51.4 62.8
13.4 65.9 64.0 50.9 62.7
13.5 65.8 63.9 51.6 62.6
13.6 66.2 64.2 51.7 62.9
13.7 65.9 64.0 52.2 62.7
13.8 66.1 64.1 51.9 62.8
13.9 66.5 64.4 52.3 63.0
14.0 66.7 64.6 51.9 63.1
14.1 66.9 64.8 51.7 63.3
14.2 66.4 64.4 51.6 63.0
14.3 65.8 63.9 52.4 62.6
14.4 65.9 64.0 52.5 62.7
14.5 66.0 64.0 50.8 62.7
14.6 65.6 63.8 51.2 62.5
14.7 65.5 63.7 50.8 62.4
14.8 65.4 63.6 51.0 62.3
14.9 65.5 63.6 51.6 62.4
15.0 65.3 63.5 51.9 62.2
15.1 65.0 63.3 51.4 62.0
15.2 63.3 61.8 51.0 60.8
15.3 63.0 61.7 50.4 60.6
15.4 63.1 61.8 48.6 60.7
15.5 63.3 61.9 49.4 60.8
15.6 65.6 63.8 50.0 61.6
15.7 63.3 61.9 49.4 60.8
15.8 63.0 61.6 51.6 60.6
15.9 62.9 61.5 52.5 60.5
16.0 63.0 61.6 51.4 60.6
16.1 63.2 61.8 51.2 60.8
16.2 62.9 61.6 50.8 60.5
16.3 63.4 61.9 50.6 60.8
16.4 63.2 61.7 50.2 60.7
16.5 64.3 62.6 49.2 61.2
16.6 62.6 61.3 50.0 60.3
16.7 62.8 61.4 52.2 60.4
16.8 62.9 61.5 52.5 60.5
16.9 63.0 61.6 50.8 60.6
17.0 62.8 61.5 50.4 60.4
17.1 62.9 61.6 48.6 60.5
17.2 62.8 61.5 47.3 60.4
17.3 62.9 61.6 47.8 60.5
17.4 62.9 61.5 48.6 60.5
17.5 63.0 61.6 50.5 60.6
17.6 62.9 61.5 51.7 60.5
17.7 62.8 61.5 51.9 60.4
17.8 62.9 61.6 50.8 60.5
17.9 63.0 61.6 50.2 60.6
18.0 62.9 61.5 50.0 60.5
18.1 63.2 61.7 50.9 60.7
18.2 63.6 62.0 51.8 60.9
18.3 63.1 61.6 52.8 60.6
18.4 62.9 61.5 51.2 60.5
18.5 63.3 61.8 50.8 60.7
18.6 62.8 61.4 50.3 60.4
18.7 63.2 61.7 50.6 60.6
18.8 62.9 61.5 50.0 60.5
18.9 63.0 61.6 50.5 60.6
19.0 63.1 61.6 50.0 60.6
19.1 62.9 61.5 50.8 60.5
19.2 63.2 61.7 50.6 60.6
19.3 62.9 61.5 51.4 60.5
19.4 63.0 61.6 50.7 60.5
19.5 63.1 61.6 50.4 60.6
19.6 63.4 61.9 52.5 60.8
19.7 67.0 64.4 51.0 62.0
19.8 63.3 61.8 52.5 60.8
19.9 62.9 61.5 53.0 60.5
20.0 62.8 61.5 50.8 60.4
20.1 62.8 61.4 50.4 60.4
20.2 62.9 61.5 49.2 60.5
20.3 62.8 61.4 48.6 60.4
20.4 62.9 61.5 50.6 60.5
20.5 62.8 61.5 51.1 60.4
20.6 62.9 61.5 50.4 60.5
20.7 62.8 61.4 49.6 60.4
20.8 62.9 61.5 48.6 60.5
20.9 63.1 61.6 49.8 60.6
21.0 63.2 61.7 50.0 60.6
21.05 65.8 63.5 50.4 61.4
21.1 64.4 62.6 49.6 61.0
21.2 63.3 61.8 49.4 60.7
21.3 63.7 62.0 50.2 60.8
21.4 63.2 61.7 50.0 60.6
21.5 64.0 62.2 49.6 60.9
21.6 64.9 63.0 50.4 61.3
21.7 63.1 61.6 50.2 60.6
21.8 63.2 61.7 49.8 60.6
21.9 63.1 61.6 50.0 60.6
22.0 63.3 61.8 50.8 60.7
22.05 72.8 70.0 58.3 65.0
22.1 69.5 67.5 55.5 63.5
22.15 66.7 64.6 54.4 62.2
22.2 67.0 64.4 52.5 62.0
22.3 66.9 64.2 51.2 61.9
22.4 66.5 64.0 49.8 61.8
22.5 66.1 63.8 48.3 61.6
22.6 65.8 63.6 50.0 61.5
22.7 62.8 61.3 49.0 60.2
22.8 62.6 61.2 46.7 60.1
22.9 62.6 61.2 46.5 60.1
23.0 62.5 61.2 47.4 60.1
23.1 62.9 61.4 47.2 60.3
23.2 62.5 61.2 46.7 60.1
23.3 62.5 61.2 46.4 60.1
23.4 62.4 61.2 46.1 60.1
23.5 62.4 61.1 46.9 60.0
23.6 62.4 61.1 46.8 60.0
23.7 62.4 61.1 47.6 60.0
23.8 62.4 61.1 46.5 60.0
23.9 62.3 61.1 45.8 60.0
23.98 62.3 61.0 46.5 60.0
}\bottab

\pgfplotsset{
  legline/.style={legend image code/.code={\draw[##1,line width=1.8pt] (0pt,0pt) -- (11.5pt,0pt);}},
  legdot/.style={legend image code/.code={\path[draw=none,fill=none] (0pt,-1pt) rectangle (11.5pt,1pt); \fill[##1] (5.5pt,0pt) circle (1.2pt);}},
  dbframe/.style={
    scale only axis, width=1142.5pt, height=252pt,
    xmin=0, xmax=23.98, ymin=24, ymax=108,
    ytick={24,36,...,108}, minor y tick num=3,
    yticklabels={24,36,48,60,72,84,96,108},
    tick align=outside,
    major tick length=2.5pt, minor tick length=1.5pt,
    axis line style={black, line width=0.7pt},
    tick style={black, line width=0.5pt},
    ticklabel style={font=\fontsize{4.1}{5}\selectfont},
  },
  dbpanel/.style={
    dbframe,
    xtick={0,2,...,22}, minor x tick num=3,
    tick pos=left,
    grid=both,
    major grid style={gridc, line width=0.55pt},
    minor grid style={gridc!75, line width=0.3pt, dash pattern=on 1pt off 1pt},
    axis background/.style={fill=bgc},
    xlabel={time}, ylabel={dB SPL},
    every axis x label/.style={at={(axis description cs:0.5,-0.0635)}, anchor=center,
      font=\fontsize{5.5}{6.5}\selectfont},
    every axis y label/.style={at={(axis description cs:-0.0175,0.5)}, rotate=90, anchor=center,
      font=\fontsize{5.5}{6.5}\selectfont},
    title style={at={(axis description cs:0,1)}, anchor=south west, inner sep=0pt,
      yshift=-3.4pt, font=\bfseries\fontsize{5.8}{7}\selectfont},
    legend cell align=left,
    legend style={at={(axis description cs:1,0)}, anchor=south east,
      xshift=-2.5pt, yshift=2.5pt, draw=legedge, fill=legfill, rounded corners=1.5pt,
      font=\fontsize{4.8}{5.4}\selectfont, inner sep=1pt, row sep=-0.6pt,
      nodes={inner sep=0.7pt},
      /tikz/every odd column/.append style={column sep=1.6pt},
      /tikz/every even column/.append style={column sep=7.6pt}},
  },
  dbright/.style={
    dbframe,
    axis x line=none, axis y line*=right,
    ylabel={dB SPL},
    every axis y label/.style={at={(axis description cs:1.0184,0.5)}, rotate=90, anchor=center,
      font=\fontsize{5.5}{6.5}\selectfont},
  },
  peakmarks/.style={forget plot, only marks, mark=+, mark size=0.9pt, mark options={line width=0.35pt}},
}

\begin{document}
\begin{tikzpicture}

\node[anchor=north west, align=left, inner sep=0pt,
  font=\bfseries\fontsize{6.9}{9}\selectfont] at (-17pt,35pt)
  {data from [5002/mic0]\\starting point is [20241212\_000024]};

% ---- top panel ----
\begin{axis}[dbpanel, at={(0,0)}, anchor=north west,
  title={average and peak noise level (1 min sampling)},
  xticklabels={00:00,02:00,04:00,06:00,08:00,10:00,12:00,14:00,16:00,18:00,20:00,22:00},
  legend columns=2]
\addplot[peakmarks, pz] table[x=t,y=z]{\peaktab};
\addplot[peakmarks, pz] table[x=t,y=z]{\bandtab};
\addplot[peakmarks, pc] table[x=t,y=c]{\peaktab};
\addplot[peakmarks, pc] table[x=t,y=c]{\bandtab};
\addplot[peakmarks, pa] table[x=t,y=a]{\peaktab};
\addplot[peakmarks, pa] table[x=t,y=a]{\bandtab};
\addplot[forget plot, az, line width=0.6pt] table[x=t,y=z]{\avgtab};
\addplot[forget plot, ac, line width=0.6pt] table[x=t,y=c]{\avgtab};
\addplot[forget plot, aa, line width=0.6pt] table[x=t,y=a]{\avgtab};
\addlegendimage{pz, legdot}
\addlegendentry{peak dB(Z)}
\addlegendimage{az, legline}
\addlegendentry{avg dB(Z)}
\addlegendimage{pc, legdot}
\addlegendentry{peak dB(C)}
\addlegendimage{ac, legline}
\addlegendentry{avg dB(C)}
\addlegendimage{pa, legdot}
\addlegendentry{peak dB(A)}
\addlegendimage{aa, legline}
\addlegendentry{avg dB(A)}
\end{axis}
\begin{axis}[dbright, at={(0,0)}, anchor=north west]
\end{axis}

% ---- bottom panel ----
\begin{axis}[dbpanel, at={(0,-280.5pt)}, anchor=north west,
  title={average noise level (5 min with 15s min/max dB envelope)},
  xticklabels={00:00:00,02:00:00,04:00:00,06:00:00,08:00:00,10:00:00,12:00:00,14:00:00,16:00:00,18:00:00,20:00:00,22:00:00}]
\addplot[forget plot, draw=none, name path=envup] coordinates {
(0.0,66) (0.05,70) (0.1,66) (0.15,74) (0.2,66) (0.22,79.4) (0.25,66) (0.3,79) (0.35,67) (0.4,72) (0.45,66)
(0.5,65) (0.55,69) (0.6,65) (0.65,71) (0.7,65) (0.75,68) (0.8,65) (0.85,70) (0.9,65) (0.95,68)
(1.0,66) (1.05,75) (1.1,66) (1.15,73) (1.2,66) (1.25,76) (1.3,68) (1.35,82) (1.4,70) (1.42,84.4)
(1.45,70) (1.5,81.7) (1.55,69) (1.6,80) (1.65,67) (1.7,76.7) (1.75,67) (1.8,74) (1.85,67) (1.9,76)
(1.95,67) (2.0,77.2) (2.05,67) (2.1,73) (2.15,66) (2.2,75.6) (2.25,66) (2.3,71) (2.35,67) (2.4,80.6)
(2.45,68) (2.5,81.5) (2.55,67) (2.6,78) (2.65,66) (2.7,76.7) (2.75,67) (2.8,80.6) (2.85,67) (2.9,81.7)
(2.95,66) (3.0,72.2) (3.05,66) (3.1,71) (3.15,66) (3.2,72) (3.25,66) (3.3,70) (3.35,67) (3.4,76)
(3.45,81.6) (3.5,76) (3.55,80) (3.6,67) (3.65,78) (3.7,92.5) (3.75,72) (3.8,82.8) (3.85,67) (3.9,76.7)
(3.95,68) (4.0,76) (4.05,68) (4.1,79.4) (4.15,69) (4.2,87.2) (4.25,70) (4.3,80.6) (4.35,69) (4.4,77)
(4.45,68) (4.5,76) (4.55,67) (4.6,74.4) (4.65,67) (4.7,75) (4.75,68) (4.8,82.2) (4.85,70) (4.9,83.3)
(4.95,71) (5.0,82) (5.05,71) (5.1,84.2) (5.15,71) (5.2,80) (5.25,71) (5.3,83.6) (5.35,71) (5.4,83.6)
(5.45,70) (5.5,80.6) (5.55,69) (5.6,76.7) (5.65,68) (5.7,74) (5.75,67) (5.8,73.3) (5.85,67) (5.9,72)
(5.95,67) (6.0,69) (6.05,67) (6.1,74) (6.15,67) (6.2,80.6) (6.25,68) (6.3,76) (6.35,67) (6.4,73)
(6.45,67) (6.5,74.4) (6.55,67) (6.6,77.8) (6.65,67) (6.7,77) (6.75,67) (6.8,70) (6.85,66) (6.9,69)
(6.95,66) (7.0,71) (7.05,66) (7.1,68) (7.15,66) (7.2,70) (7.25,66) (7.3,69) (7.35,66) (7.4,71)
(7.45,66) (7.5,72) (7.55,66) (7.6,73) (7.65,66) (7.7,71) (7.75,66) (7.8,73) (7.85,66) (7.9,70)
(7.95,67) (8.0,83.9) (8.05,68) (8.1,77.8) (8.15,67) (8.2,76.1) (8.25,67) (8.3,73) (8.35,66) (8.4,72)
(8.45,66) (8.5,70) (8.55,66) (8.6,72.8) (8.65,66) (8.7,70) (8.75,66) (8.8,72) (8.85,66) (8.9,69)
(8.95,66) (9.0,71.1) (9.1,66) (9.2,70) (9.3,66) (9.4,71) (9.5,66) (9.6,67.8) (9.7,65.5) (9.8,67)
(9.9,65.5) (10.0,66.5) (10.1,65.5) (10.2,67.5) (10.3,65.5) (10.4,66.5) (10.5,68) (10.55,66) (10.6,70) (10.65,66)
(10.7,68) (10.75,67) (10.8,80) (10.85,90) (10.9,78) (10.95,90.8) (11.0,80) (11.05,88.1) (11.1,88.3) (11.15,78)
(11.2,78.3) (11.25,70) (11.3,75.6) (11.35,69) (11.4,74) (11.45,67) (11.5,68) (11.55,66) (11.6,68) (11.7,66)
(11.8,67.5) (11.9,66) (12.0,67.8) (12.05,66) (12.15,73) (12.2,78.3) (12.25,66) (12.35,72.2) (12.4,66) (12.5,71)
(12.6,66) (12.7,69) (12.8,67) (12.9,70) (12.95,67) (13.0,79) (13.05,67) (13.15,73) (13.2,68) (13.3,72.2)
(13.35,68) (13.45,73.3) (13.5,68) (13.6,71) (13.7,68) (13.8,72) (13.85,68) (13.95,75) (14.0,80) (14.05,68)
(14.1,75.6) (14.15,68) (14.25,71.1) (14.3,68) (14.45,84.4) (14.5,68) (14.6,70) (14.7,67.8) (14.8,72) (14.85,67)
(14.95,74.4) (15.05,67) (15.15,68) (15.2,65) (15.3,67.8) (15.35,65) (15.45,73.3) (15.5,65) (15.6,72.2) (15.65,66)
(15.75,70) (15.8,65) (15.9,73.9) (15.95,65) (16.1,70) (16.15,64.5) (16.3,68) (16.35,64.5) (16.45,72.8) (16.5,66)
(16.6,67.8) (16.7,64.5) (16.8,68) (16.9,72.8) (16.95,64.5) (17.1,66) (17.2,64.5) (17.3,67.8) (17.4,64.5) (17.5,70)
(17.6,64.5) (17.7,66) (17.8,64.5) (18.0,67.2) (18.1,64.5) (18.2,66) (18.3,64.5) (18.5,70) (18.55,64.5) (18.7,66)
(18.8,67.8) (18.9,64.5) (19.0,69.4) (19.1,64.5) (19.3,68.9) (19.4,64.5) (19.5,66) (19.6,65) (19.7,82.5) (19.75,66)
(19.9,68.9) (19.95,64.5) (20.0,65.6) (20.2,64.5) (20.3,67.8) (20.4,64.5) (20.6,66) (20.7,72.8) (20.75,64.5) (20.9,68)
(21.0,75.6) (21.05,68) (21.2,76.1) (21.25,65) (21.35,70) (21.4,64.8) (21.5,72) (21.6,76.1) (21.65,65) (21.8,65.6)
(21.9,70) (21.95,65) (22.0,72) (22.05,87.8) (22.1,82.2) (22.15,70) (22.2,76) (22.25,68) (22.3,69) (22.4,72)
(22.45,68) (22.5,77.2) (22.55,68) (22.6,71) (22.7,65.6) (22.8,64.5) (22.9,66) (23.0,75) (23.05,64) (23.2,63.9)
(23.4,64.5) (23.6,63.5) (23.8,63.8) (23.98,63.3)
};
\addplot[forget plot, draw=none, name path=envlo] table[x=t,y=lo]{\bottab};
\addplot[forget plot, envc, fill opacity=0.24, draw=none] fill between[of=envup and envlo];
\addplot[bz, line width=0.75pt, legline] table[x=t,y=z]{\bottab};
\addlegendentry{dB(Z)}
\addplot[bc, line width=0.75pt, legline] table[x=t,y=c]{\bottab};
\addlegendentry{dB(C)}
\addplot[ba, line width=0.75pt, legline] table[x=t,y=a]{\bottab};
\addlegendentry{dB(A)}
\end{axis}
\begin{axis}[dbright, at={(0,-280.5pt)}, anchor=north west]
\end{axis}

\pgfresetboundingbox
\path (-29pt,42pt) rectangle (1171pt,-558pt);
\end{tikzpicture}
\end{document}
